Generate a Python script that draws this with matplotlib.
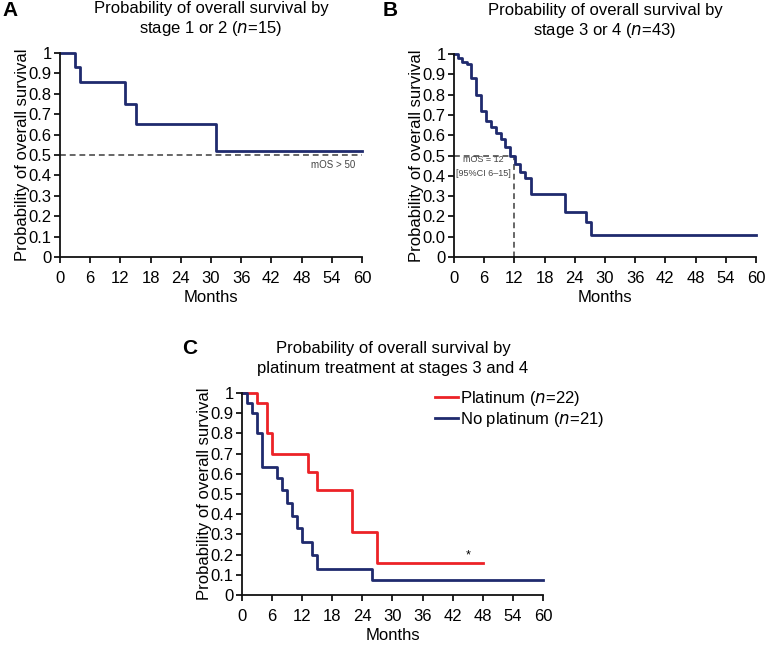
import numpy as np
import matplotlib
matplotlib.use("Agg")
import matplotlib.pyplot as plt

plt.rcParams['font.family'] = ['Liberation Sans', 'DejaVu Sans']

# donnees (mois, probabilite de survie)
a_months = [0, 3, 4, 13, 15, 31, 60]
a_surv = [1.0, 0.93, 0.86, 0.75, 0.65, 0.52, 0.52]

b_months = [0, 0.7, 1.5, 2.6, 3.4, 4.3, 5.3, 6.3, 7.3, 8.3, 9.3, 10.2, 11.2,
            12.1, 13.1, 14.2, 15.2, 22.1, 26.2, 27.2, 60]
b_surv = [1.0, 0.98, 0.96, 0.95, 0.88, 0.80, 0.72, 0.67, 0.64, 0.61, 0.58, 0.54,
          0.50, 0.46, 0.42, 0.39, 0.31, 0.22, 0.17, 0.11, 0.11]

plat_months = [0, 2.9, 5.0, 5.9, 13.2, 15.0, 22.0, 27.0, 48]
plat_surv = [1.0, 0.95, 0.80, 0.70, 0.61, 0.52, 0.31, 0.16, 0.16]

noplat_months = [0, 0.9, 2.0, 2.9, 4.0, 6.9, 8.0, 9.0, 10.0, 11.0, 11.9, 13.9, 15.0, 26.0, 60]
noplat_surv = [1.0, 0.95, 0.90, 0.80, 0.635, 0.58, 0.52, 0.455, 0.39, 0.33, 0.26, 0.20, 0.13, 0.074, 0.074]

x_ticks = list(range(0, 61, 6))
y_ticks = [0, 0.1, 0.2, 0.3, 0.4, 0.5, 0.6, 0.7, 0.8, 0.9, 1]
y_labels = ['0', '0.1', '0.2', '0.3', '0.4', '0.5', '0.6', '0.7', '0.8', '0.9', '1']
y_labels_b = ['0', '0.0', '0.2', '0.3', '0.4', '0.5', '0.6', '0.7', '0.8', '0.9', '1']

navy = '#1f2a6e'
red = '#ec2227'
gris = '#666666'
W, H = 765, 647
fs = 12


def box(l, t, r, b):
    return [l / W, 1 - b / H, (r - l) / W, (b - t) / H]


def style(ax, ylabs):
    ax.set_xlim(0, 60)
    ax.set_ylim(0, 1)
    ax.set_xticks(x_ticks)
    ax.set_yticks(y_ticks)
    ax.set_yticklabels(ylabs)
    for s in ['top', 'right']:
        ax.spines[s].set_visible(False)
    for s in ['left', 'bottom']:
        ax.spines[s].set_linewidth(1.3)
        ax.spines[s].set_color('#111111')
    ax.tick_params(direction='out', length=4, width=1.2, labelsize=fs, pad=2)
    ax.tick_params(axis='x', pad=6)
    ax.set_xlabel('Months', fontsize=fs, labelpad=3)
    ax.set_ylabel('Probability of overall survival', fontsize=fs, labelpad=-1)
    ax.patch.set_alpha(0)


fig = plt.figure(figsize=(7.65, 6.47), dpi=100)

# A
axA = fig.add_axes(box(60, 53, 362, 257))
style(axA, y_labels)
axA.plot([0, 60], [0.5, 0.5], ls=(0, (3, 2)), color=gris, lw=1.4, clip_on=False)
axA.step(a_months, a_surv, where='post', color=navy, lw=2, clip_on=False)
axA.text(58.6, 0.453, 'mOS > 50', fontsize=7, color='#444444', ha='right', va='center')
fig.text(211 / W, 1 - 8 / H, 'Probability of overall survival by', ha='center', va='center', fontsize=fs)
fig.text(211 / W, 1 - 29 / H, 'stage 1 or 2 ($n$=15)', ha='center', va='center', fontsize=fs)
fig.text(2 / W, 1 - 10 / H, 'A', fontsize=15, fontweight='bold', va='center')

# B
axB = fig.add_axes(box(454, 54, 756, 257))
style(axB, y_labels_b)
axB.plot([0, 12, 12], [0.5, 0.5, 0], ls=(0, (3, 2)), color=gris, lw=1.4)
axB.step(b_months, b_surv, where='post', color=navy, lw=2, clip_on=False)
axB.text(5.9, 0.478, 'mOS = 12', fontsize=6.5, color='#444444', ha='center', va='center')
axB.text(5.9, 0.41, '[95%CI 6\u201315]', fontsize=6.5, color='#444444', ha='center', va='center')
fig.text(605 / W, 1 - 10 / H, 'Probability of overall survival by', ha='center', va='center', fontsize=fs)
fig.text(605 / W, 1 - 31 / H, 'stage 3 or 4 ($n$=43)', ha='center', va='center', fontsize=fs)
fig.text(383 / W, 1 - 10 / H, 'B', fontsize=15, fontweight='bold', va='center')

# C
axC = fig.add_axes(box(242, 393, 543, 595))
style(axC, y_labels)
axC.step(plat_months, plat_surv, where='post', color=red, lw=2,
         label='Platinum ($n$=22)', clip_on=False)
axC.step(noplat_months, noplat_surv, where='post', color=navy, lw=2,
         label='No platinum ($n$=21)', clip_on=False)
axC.text(45.1, 0.198, '*', fontsize=9, ha='center', va='center')
axC.legend(loc='upper left', bbox_to_anchor=((435 - 242) / 301, 1.02), frameon=False,
           fontsize=fs, handlelength=1.4, handletextpad=0.1, borderpad=0,
           borderaxespad=0, labelspacing=0.12)
fig.text(393 / W, 1 - 349 / H, 'Probability of overall survival by', ha='center', va='center', fontsize=fs)
fig.text(393 / W, 1 - 369 / H, 'platinum treatment at stages 3 and 4', ha='center', va='center', fontsize=fs)
fig.text(182 / W, 1 - 348 / H, 'C', fontsize=15, fontweight='bold', va='center')

fig.savefig('out.png', dpi=100)
